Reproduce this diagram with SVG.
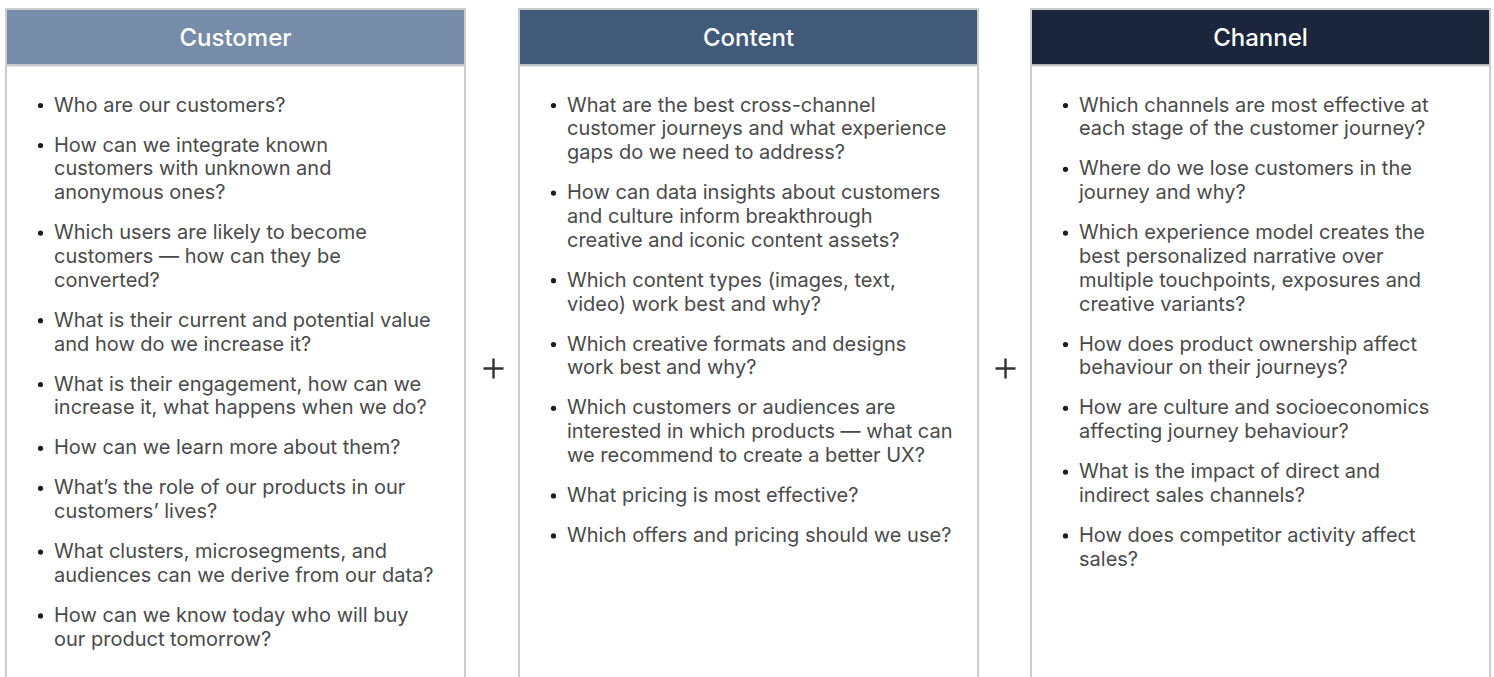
<svg xmlns="http://www.w3.org/2000/svg" width="1494" height="677" viewBox="0 0 1494 677">
<style>
.frame{fill:#ffffff;stroke:#cccccc;stroke-width:2}
.sep{stroke:#cccccc;stroke-width:2}
.hd{font-family:Inter,"Liberation Sans",sans-serif;font-size:24px;font-weight:500;fill:#ffffff;text-anchor:middle}
.tx{font-family:Inter,"Liberation Sans",sans-serif;font-size:20px;fill:#4a4a4a}
.bl{fill:#1e1e1e}
.plus{stroke:#333333;stroke-width:2.4;fill:none}
</style>
<rect x="0" y="0" width="1494" height="677" fill="#ffffff"/>

<g id="customer">
<path class="frame" d="M6,680 V9 H465 V680"/>
<rect x="7" y="10" width="457" height="54.5" fill="#778ca8"/>
<line class="sep" x1="7" y1="65.5" x2="464" y2="65.5"/>
<text class="hd" x="235.5" y="45.5">Customer</text>
<g class="bl">
<circle cx="40.5" cy="105.5" r="2.6"/><circle cx="40.5" cy="145.5" r="2.6"/><circle cx="40.5" cy="233.1" r="2.6"/>
<circle cx="40.5" cy="320.7" r="2.6"/><circle cx="40.5" cy="384.5" r="2.6"/><circle cx="40.5" cy="448.3" r="2.6"/>
<circle cx="40.5" cy="488.3" r="2.6"/><circle cx="40.5" cy="552.1" r="2.6"/><circle cx="40.5" cy="615.9" r="2.6"/>
</g>
<text class="tx"><tspan x="54" y="111.5">Who are our customers?</tspan></text>
<text class="tx"><tspan x="54" y="151.5">How can we integrate known</tspan><tspan x="54" y="175.3">customers with unknown and</tspan><tspan x="54" y="199.1">anonymous ones?</tspan></text>
<text class="tx"><tspan x="54" y="239.1">Which users are likely to become</tspan><tspan x="54" y="262.9">customers — how can they be</tspan><tspan x="54" y="286.7">converted?</tspan></text>
<text class="tx"><tspan x="54" y="326.7">What is their current and potential value</tspan><tspan x="54" y="350.5">and how do we increase it?</tspan></text>
<text class="tx"><tspan x="54" y="390.5">What is their engagement, how can we</tspan><tspan x="54" y="414.3">increase it, what happens when we do?</tspan></text>
<text class="tx"><tspan x="54" y="454.3">How can we learn more about them?</tspan></text>
<text class="tx"><tspan x="54" y="494.3">What’s the role of our products in our</tspan><tspan x="54" y="518.1">customers’ lives?</tspan></text>
<text class="tx"><tspan x="54" y="558.1">What clusters, microsegments, and</tspan><tspan x="54" y="581.9">audiences can we derive from our data?</tspan></text>
<text class="tx"><tspan x="54" y="621.9">How can we know today who will buy</tspan><tspan x="54" y="645.7">our product tomorrow?</tspan></text>
</g>

<g id="content">
<path class="frame" d="M519,680 V9 H978 V680"/>
<rect x="520" y="10" width="457" height="54.5" fill="#425a79"/>
<line class="sep" x1="520" y1="65.5" x2="977" y2="65.5"/>
<text class="hd" x="748.5" y="45.5">Content</text>
<g class="bl">
<circle cx="553.5" cy="105.5" r="2.6"/><circle cx="553.5" cy="193.1" r="2.6"/><circle cx="553.5" cy="280.7" r="2.6"/>
<circle cx="553.5" cy="344.5" r="2.6"/><circle cx="553.5" cy="408.3" r="2.6"/><circle cx="553.5" cy="495.9" r="2.6"/>
<circle cx="553.5" cy="535.9" r="2.6"/>
</g>
<text class="tx"><tspan x="567" y="111.5">What are the best cross-channel</tspan><tspan x="567" y="135.3">customer journeys and what experience</tspan><tspan x="567" y="159.1">gaps do we need to address?</tspan></text>
<text class="tx"><tspan x="567" y="199.1">How can data insights about customers</tspan><tspan x="567" y="222.9">and culture inform breakthrough</tspan><tspan x="567" y="246.7">creative and iconic content assets?</tspan></text>
<text class="tx"><tspan x="567" y="286.7">Which content types (images, text,</tspan><tspan x="567" y="310.5">video) work best and why?</tspan></text>
<text class="tx"><tspan x="567" y="350.5">Which creative formats and designs</tspan><tspan x="567" y="374.3">work best and why?</tspan></text>
<text class="tx"><tspan x="567" y="414.3">Which customers or audiences are</tspan><tspan x="567" y="438.1">interested in which products — what can</tspan><tspan x="567" y="461.9">we recommend to create a better UX?</tspan></text>
<text class="tx"><tspan x="567" y="501.9">What pricing is most effective?</tspan></text>
<text class="tx"><tspan x="567" y="541.9">Which offers and pricing should we use?</tspan></text>
</g>

<g id="channel">
<path class="frame" d="M1031,680 V9 H1490 V680"/>
<rect x="1032" y="10" width="457" height="54.5" fill="#1b263d"/>
<line class="sep" x1="1032" y1="65.5" x2="1489" y2="65.5"/>
<text class="hd" x="1260.5" y="45.5">Channel</text>
<g class="bl">
<circle cx="1065.5" cy="105.5" r="2.6"/><circle cx="1065.5" cy="169.3" r="2.6"/><circle cx="1065.5" cy="233.1" r="2.6"/>
<circle cx="1065.5" cy="344.5" r="2.6"/><circle cx="1065.5" cy="408.3" r="2.6"/><circle cx="1065.5" cy="472.1" r="2.6"/>
<circle cx="1065.5" cy="535.9" r="2.6"/>
</g>
<text class="tx"><tspan x="1079" y="111.5">Which channels are most effective at</tspan><tspan x="1079" y="135.3">each stage of the customer journey?</tspan></text>
<text class="tx"><tspan x="1079" y="175.3">Where do we lose customers in the</tspan><tspan x="1079" y="199.1">journey and why?</tspan></text>
<text class="tx"><tspan x="1079" y="239.1">Which experience model creates the</tspan><tspan x="1079" y="262.9">best personalized narrative over</tspan><tspan x="1079" y="286.7">multiple touchpoints, exposures and</tspan><tspan x="1079" y="310.5">creative variants?</tspan></text>
<text class="tx"><tspan x="1079" y="350.5">How does product ownership affect</tspan><tspan x="1079" y="374.3">behaviour on their journeys?</tspan></text>
<text class="tx"><tspan x="1079" y="414.3">How are culture and socioeconomics</tspan><tspan x="1079" y="438.1">affecting journey behaviour?</tspan></text>
<text class="tx"><tspan x="1079" y="478.1">What is the impact of direct and</tspan><tspan x="1079" y="501.9">indirect sales channels?</tspan></text>
<text class="tx"><tspan x="1079" y="541.9">How does competitor activity affect</tspan><tspan x="1079" y="565.7">sales?</tspan></text>
</g>

<g id="connectors">
<path class="plus" d="M483.5,368.5 H503.5 M493.5,358.5 V378.5"/>
<path class="plus" d="M995.5,368.5 H1015.5 M1005.5,358.5 V378.5"/>
</g>
</svg>
